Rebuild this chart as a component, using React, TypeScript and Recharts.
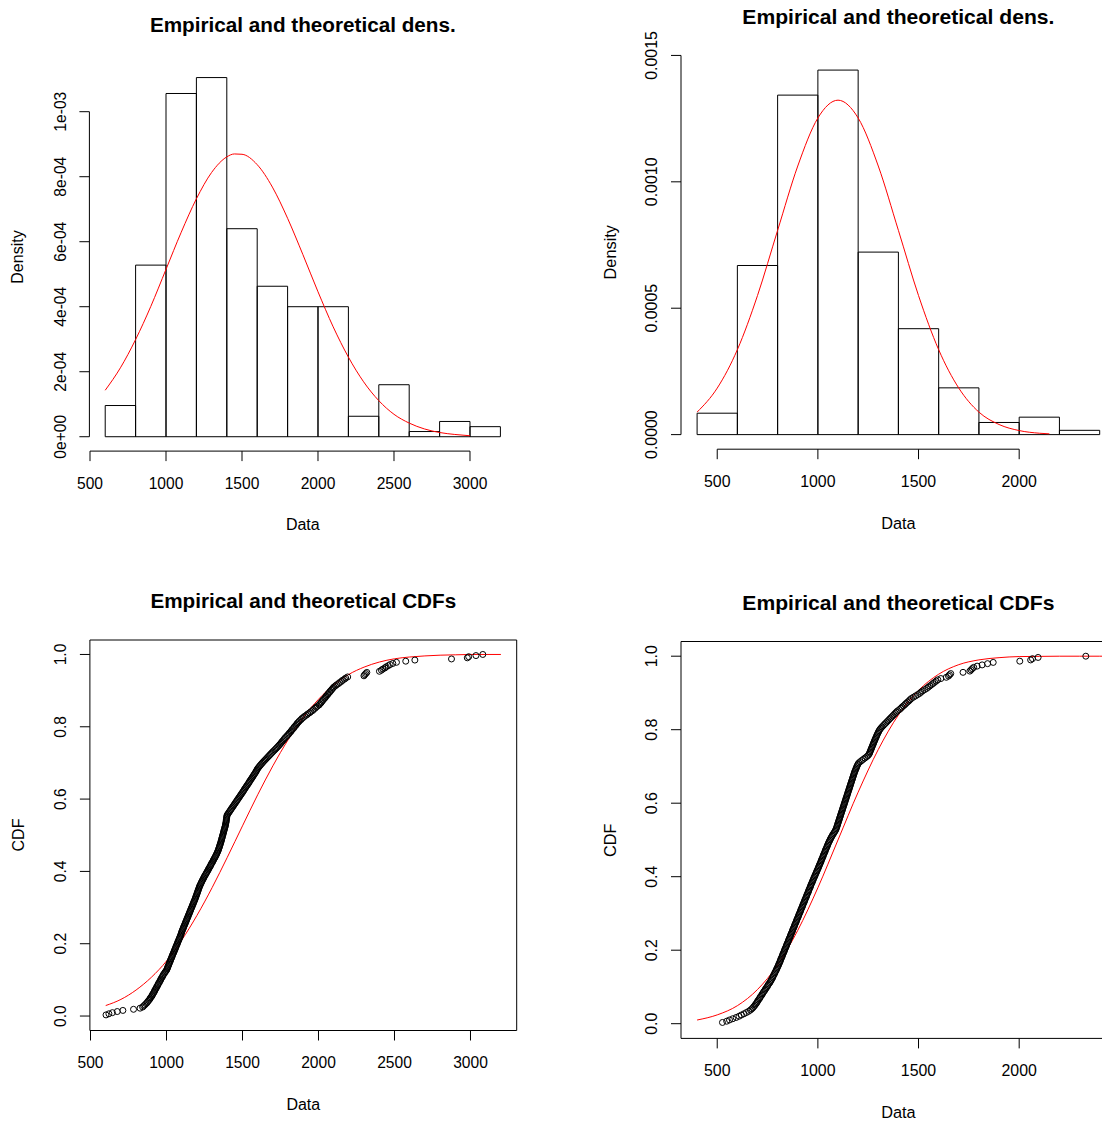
import React from 'react';
import {
  ComposedChart,
  XAxis,
  YAxis,
  Line,
  Scatter,
  ReferenceArea,
  ReferenceLine,
} from 'recharts';

const FONT = '"Liberation Sans", Arial, Helvetica, sans-serif';

// histograms, bins of width 200 (left edge of each bin)
const binWidth = 200;
const leftBinStarts = [600, 800, 1000, 1200, 1400, 1600, 1800, 2000, 2200, 2400, 2600, 2800, 3000];
const leftBinDensity = [
  0.96e-4, 5.28e-4, 1.056e-3, 1.105e-3, 6.4e-4, 4.63e-4, 4.0e-4, 4.0e-4, 0.63e-4, 1.6e-4, 0.16e-4,
  0.47e-4, 0.31e-4,
];
const rightBinStarts = [400, 600, 800, 1000, 1200, 1400, 1600, 1800, 2000, 2200];
const rightBinDensity = [
  0.847e-4, 6.69e-4, 1.343e-3, 1.442e-3, 7.22e-4, 4.19e-4, 1.85e-4, 0.48e-4, 0.69e-4, 0.17e-4,
];

// theoretical density (red curve)
const leftDensX = [
  600, 700, 800, 900, 1000, 1100, 1200, 1300, 1400, 1450, 1500, 1600, 1700, 1800, 1900, 2000, 2100,
  2200, 2300, 2400, 2500, 2600, 2700, 2800, 2900, 3000,
];
const leftDensY = [
  1.43e-4, 2.12e-4, 2.99e-4, 4.01e-4, 5.15e-4, 6.29e-4, 7.32e-4, 8.13e-4, 8.61e-4, 8.7e-4, 8.69e-4,
  8.37e-4, 7.68e-4, 6.72e-4, 5.61e-4, 4.46e-4, 3.38e-4, 2.45e-4, 1.69e-4, 1.11e-4, 0.69e-4,
  0.42e-4, 0.24e-4, 0.13e-4, 0.07e-4, 0.03e-4,
];
const rightDensX = [
  400, 500, 600, 700, 800, 900, 1000, 1100, 1200, 1300, 1400, 1500, 1600, 1700, 1800, 1900, 2000,
  2100, 2150,
];
const rightDensY = [
  0.89e-4, 1.84e-4, 3.36e-4, 5.5e-4, 8.08e-4, 1.0625e-3, 1.2525e-3, 1.323e-3, 1.2525e-3, 1.0625e-3,
  8.08e-4, 5.5e-4, 3.36e-4, 1.84e-4, 0.89e-4, 0.4e-4, 0.16e-4, 0.055e-4, 0.03e-4,
];

// theoretical CDF (red curve)
const leftCdfX = [
  600, 700, 800, 900, 1000, 1100, 1200, 1300, 1400, 1500, 1600, 1700, 1800, 1900, 2000, 2100, 2200,
  2300, 2400, 2500, 2600, 2700, 2800, 2900, 3000, 3100, 3200,
];
const leftCdfY = [
  0.029, 0.046, 0.072, 0.107, 0.152, 0.21, 0.278, 0.355, 0.439, 0.526, 0.612, 0.692, 0.764, 0.826,
  0.876, 0.916, 0.945, 0.965, 0.979, 0.988, 0.993, 0.996, 0.998, 0.999, 1.0, 1.0, 1.0,
];
const rightCdfX = [
  400, 500, 600, 700, 800, 900, 1000, 1100, 1200, 1300, 1400, 1500, 1600, 1700, 1800, 1900, 2000,
  2100, 2200, 2300, 2400, 2500,
];
const rightCdfY = [
  0.01, 0.024, 0.049, 0.093, 0.16, 0.254, 0.37, 0.5, 0.63, 0.746, 0.84, 0.907, 0.951, 0.977, 0.99,
  0.996, 0.999, 0.9995, 1.0, 1.0, 1.0, 1.0,
];

const leftSample = [
  602, 621, 644, 676, 713, 783,
  826, 843, 850, 858, 865, 873, 877, 884, 890, 893, 899, 905, 907, 912, 917, 921, 923, 928, 933, 935,
  941, 944, 947, 953, 956, 961, 963, 968, 973, 976, 980, 986, 990, 996,
  1001, 1004, 1007, 1009, 1013, 1016, 1018, 1021, 1025, 1027, 1030, 1034, 1036, 1039, 1042, 1045,
  1049, 1051, 1054, 1058, 1060, 1063, 1066, 1070, 1072, 1075, 1078, 1082, 1084, 1087, 1091, 1093,
  1096, 1098, 1101, 1103, 1106, 1110, 1112, 1115, 1118, 1122, 1124, 1127, 1131, 1133, 1136, 1140,
  1142, 1145, 1149, 1151, 1154, 1158, 1160, 1163, 1167, 1169, 1172, 1176, 1178, 1181, 1185, 1187,
  1190, 1193, 1195, 1198,
  1201, 1203, 1206, 1208, 1211, 1214, 1216, 1219, 1223, 1226, 1230, 1233, 1237, 1241, 1245, 1248,
  1252, 1257, 1261, 1265, 1269, 1274, 1277, 1281, 1286, 1290, 1293, 1297, 1302, 1306, 1309, 1313,
  1318, 1321, 1325, 1329, 1332, 1335, 1339, 1341, 1344, 1346, 1349, 1351, 1353, 1356, 1358, 1360,
  1362, 1364, 1366, 1368, 1370, 1372, 1374, 1376, 1378, 1380, 1382, 1384, 1386, 1388, 1389, 1391,
  1392, 1393, 1394, 1395, 1396, 1397, 1399,
  1404, 1409, 1414, 1419, 1424, 1429, 1434, 1439, 1444, 1449, 1454, 1459, 1464, 1469, 1474, 1479,
  1484, 1489, 1494, 1499, 1504, 1509, 1513, 1518, 1523, 1528, 1533, 1538, 1543, 1547, 1552, 1557,
  1562, 1567, 1571, 1576, 1581, 1586, 1590, 1594, 1598,
  1603, 1609, 1615, 1621, 1628, 1634, 1641, 1648, 1655, 1662, 1669, 1676, 1683, 1690, 1697, 1704,
  1712, 1719, 1726, 1733, 1740, 1746, 1753, 1758, 1764, 1771, 1776, 1782, 1790, 1796,
  1803, 1808, 1816, 1821, 1826, 1834, 1839, 1844, 1852, 1857, 1862, 1870, 1876, 1885, 1891, 1901,
  1909, 1921, 1929, 1941, 1949, 1961, 1967, 1977, 1984, 1993,
  2004, 2009, 2017, 2021, 2028, 2033, 2041, 2046, 2051, 2059, 2063, 2071, 2075, 2083, 2088, 2095,
  2101, 2111, 2119, 2131, 2139, 2151, 2158, 2171, 2179, 2192,
  2299, 2304, 2311, 2318,
  2401, 2414, 2423, 2437, 2445, 2459, 2471, 2489, 2513, 2574,
  2634, 2875, 2979, 2988, 3036, 3081,
];
const rightSample = [
  526, 547, 561, 577, 594,
  608, 620, 633, 645, 656, 665, 672, 678, 683, 688, 692, 697, 700, 704, 709, 712, 716, 721, 724, 728,
  732, 737, 740, 744, 749, 752, 756, 761, 764, 768, 771, 775, 777, 780, 784, 786, 789, 793, 795, 798,
  801, 804, 806, 809, 812, 814, 816, 819, 822, 824, 826, 829, 832, 834, 836, 839, 842, 844, 846, 849,
  852, 854, 856, 859, 862, 864, 866, 869, 872, 874, 876, 879, 882, 884, 886, 889, 892, 894, 896, 899,
  902, 904, 906, 909, 912, 914, 916, 919, 922, 924, 926, 929, 932, 934, 936, 939, 942, 944, 946, 949,
  952, 954, 956, 959, 962, 964, 966, 969, 972, 974, 977, 979, 982, 985, 987, 990, 993, 995, 998,
  1001, 1003, 1006, 1008, 1011, 1014, 1016, 1018, 1021, 1024, 1026, 1028, 1031, 1034, 1036, 1038,
  1041, 1044, 1046, 1049, 1051, 1054, 1057, 1060, 1063, 1066, 1070, 1073, 1077, 1081, 1085, 1088,
  1091, 1093, 1095, 1097, 1099, 1101, 1103, 1105, 1107, 1109, 1111, 1113, 1115, 1117, 1119, 1121,
  1123, 1125, 1127, 1129, 1131, 1133, 1135, 1137, 1139, 1141, 1143, 1145, 1147, 1149, 1151, 1153,
  1155, 1157, 1159, 1161, 1163, 1165, 1167, 1169, 1171, 1173, 1175, 1177, 1179, 1181, 1183, 1186,
  1188, 1191, 1193, 1196, 1199,
  1203, 1210, 1218, 1226, 1234, 1242, 1249, 1254, 1257, 1259, 1262, 1264, 1267, 1269, 1272, 1274,
  1277, 1279, 1282, 1284, 1287, 1290, 1292, 1295, 1298, 1301, 1304, 1308, 1313, 1318, 1324, 1330,
  1336, 1342, 1348, 1354, 1360, 1366, 1372, 1378, 1384, 1390, 1396,
  1405, 1412, 1418, 1425, 1432, 1438, 1445, 1452, 1458, 1465, 1475, 1485, 1495, 1505, 1512, 1520,
  1530, 1540, 1548, 1556, 1564, 1572, 1580, 1588, 1596,
  1611, 1638, 1649, 1654, 1660, 1721, 1755, 1761, 1767, 1774, 1791,
  1816, 1843, 1871, 2003, 2057, 2066, 2094, 2331,
];

// axis ticks
const leftXTicks = [500, 1000, 1500, 2000, 2500, 3000];
const rightXTicks = [500, 1000, 1500, 2000];
const leftDensTicks = [0, 0.0002, 0.0004, 0.0006, 0.0008, 0.001];
const leftDensLabels = ['0e+00', '2e-04', '4e-04', '6e-04', '8e-04', '1e-03'];
const rightDensTicks = [0, 0.0005, 0.001, 0.0015];
const rightDensLabels = ['0.0000', '0.0005', '0.0010', '0.0015'];
const cdfTicks = [0, 0.2, 0.4, 0.6, 0.8, 1];
const cdfLabels = ['0.0', '0.2', '0.4', '0.6', '0.8', '1.0'];

const toPoints = (xs: number[], ys: number[]) => xs.map((x, i) => ({ x, y: ys[i] }));
const ecdf = (s: number[]) => s.map((x, i) => ({ x, y: (i + 1) / s.length }));

interface Rect {
  l: number;
  t: number;
  w: number;
  h: number;
}

const AXIS_W = 40;
const AXIS_H = 40;

const Txt = ({
  x,
  y,
  size,
  bold,
  rotate,
  children,
}: {
  x: number;
  y: number;
  size: number;
  bold?: boolean;
  rotate?: boolean;
  children: React.ReactNode;
}) => (
  <div
    style={{
      position: 'absolute',
      left: x - 250,
      top: y - size * 0.75,
      width: 500,
      height: size * 1.5,
      lineHeight: `${size * 1.5}px`,
      textAlign: 'center',
      fontFamily: FONT,
      fontSize: size,
      fontWeight: bold ? 700 : 400,
      color: '#000',
      whiteSpace: 'nowrap',
      transform: rotate ? 'rotate(-90deg)' : undefined,
    }}
  >
    {children}
  </div>
);

interface PanelProps {
  box: Rect;
  plot: Rect;
  xDomain: [number, number];
  yDomain: [number, number];
  xTicks: number[];
  yTicks: number[];
  yLabels: string[];
  title: string;
  yTitle: string;
  fs: number;
  children: React.ReactNode;
}

const Panel = (p: PanelProps) => {
  const margin = {
    left: p.plot.l - p.box.l - AXIS_W,
    top: p.plot.t - p.box.t,
    right: p.box.l + p.box.w - (p.plot.l + p.plot.w),
    bottom: p.box.t + p.box.h - (p.plot.t + p.plot.h) - AXIS_H,
  };
  const tickSize = 15.6 * p.fs;
  const xTick = (t: any) => (
    <g>
      <line x1={t.x} x2={t.x} y1={t.y} y2={t.y + 10} stroke="#000" />
      <text
        x={t.x}
        y={t.y + 32}
        textAnchor="middle"
        dominantBaseline="central"
        fontFamily={FONT}
        fontSize={tickSize}
        fill="#000"
      >
        {t.payload.value}
      </text>
    </g>
  );
  const yTick = (t: any) => {
    const tx = t.x - 29;
    return (
      <g>
        <line x1={t.x - 10} x2={t.x} y1={t.y} y2={t.y} stroke="#000" />
        <text
          x={tx}
          y={t.y}
          transform={`rotate(-90 ${tx} ${t.y})`}
          textAnchor="middle"
          dominantBaseline="central"
          fontFamily={FONT}
          fontSize={tickSize}
          fill="#000"
        >
          {p.yLabels[t.index]}
        </text>
      </g>
    );
  };
  const cx = p.plot.l + p.plot.w / 2;
  const cy = p.plot.t + p.plot.h / 2;
  return (
    <>
      <div style={{ position: 'absolute', left: p.box.l, top: p.box.t }}>
        <ComposedChart width={p.box.w} height={p.box.h} margin={margin}>
          <XAxis
            type="number"
            dataKey="x"
            domain={p.xDomain}
            allowDataOverflow
            ticks={p.xTicks}
            interval={0}
            height={AXIS_H}
            axisLine={false}
            tickLine={false}
            tickSize={0}
            tickMargin={0}
            tick={xTick}
          />
          <YAxis
            type="number"
            dataKey="y"
            domain={p.yDomain}
            allowDataOverflow
            ticks={p.yTicks}
            interval={0}
            width={AXIS_W}
            axisLine={false}
            tickLine={false}
            tickSize={0}
            tickMargin={0}
            tick={yTick}
          />
          {p.children}
        </ComposedChart>
      </div>
      <Txt x={cx} y={p.plot.t - 39} size={20.7 * p.fs} bold>
        {p.title}
      </Txt>
      <Txt x={cx} y={p.plot.t + p.plot.h + 74} size={16 * p.fs}>
        Data
      </Txt>
      <Txt x={p.plot.l - 71} y={cy} size={16 * p.fs} rotate>
        {p.yTitle}
      </Txt>
    </>
  );
};

const histBars = (starts: number[], dens: number[]) =>
  starts.map((s, i) => (
    <ReferenceArea
      key={`bin-${s}`}
      x1={s}
      x2={s + binWidth}
      y1={0}
      y2={dens[i]}
      fill="#ffffff"
      fillOpacity={0}
      stroke="#000"
      strokeWidth={1}
      ifOverflow="visible"
    />
  ));

const ring = (props: any) => (
  <circle cx={props.cx} cy={props.cy} r={3} fill="none" stroke="#000" strokeWidth={1} />
);

const leftXDomain: [number, number] = [496, 3304];
const rightXDomain: [number, number] = [320, 2480];
const cdfDomain: [number, number] = [-0.04, 1.04];

export default function App() {
  return (
    <div
      style={{
        position: 'absolute',
        left: 0,
        top: 0,
        width: 1102,
        height: 1122,
        overflow: 'hidden',
        background: '#fff',
      }}
    >
      <Panel
        box={{ l: 0, t: 0, w: 551, h: 560 }}
        plot={{ l: 89.4, t: 63.2, w: 426.8, h: 387.9 }}
        xDomain={leftXDomain}
        yDomain={[-0.0000442, 0.0011492]}
        xTicks={leftXTicks}
        yTicks={leftDensTicks}
        yLabels={leftDensLabels}
        title="Empirical and theoretical dens."
        yTitle="Density"
        fs={1}
      >
        {histBars(leftBinStarts, leftBinDensity)}
        <ReferenceLine
          segment={[
            { x: 500, y: -0.0000442 },
            { x: 3000, y: -0.0000442 },
          ]}
          stroke="#000"
          ifOverflow="visible"
        />
        <ReferenceLine
          segment={[
            { x: 496, y: 0 },
            { x: 496, y: 0.001 },
          ]}
          stroke="#000"
          ifOverflow="visible"
        />
        <Line
          data={toPoints(leftDensX, leftDensY)}
          dataKey="y"
          type="monotone"
          stroke="#ff0000"
          strokeWidth={1}
          dot={false}
          isAnimationActive={false}
        />
      </Panel>

      <Panel
        box={{ l: 551, t: 0, w: 600, h: 560 }}
        plot={{ l: 681, t: 55.5, w: 434.8, h: 393.7 }}
        xDomain={rightXDomain}
        yDomain={[-0.0000577, 0.0014997]}
        xTicks={rightXTicks}
        yTicks={rightDensTicks}
        yLabels={rightDensLabels}
        title="Empirical and theoretical dens."
        yTitle="Density"
        fs={1.02}
      >
        {histBars(rightBinStarts, rightBinDensity)}
        <ReferenceLine
          segment={[
            { x: 500, y: -0.0000577 },
            { x: 2000, y: -0.0000577 },
          ]}
          stroke="#000"
          ifOverflow="visible"
        />
        <ReferenceLine
          segment={[
            { x: 320, y: 0 },
            { x: 320, y: 0.0015 },
          ]}
          stroke="#000"
          ifOverflow="visible"
        />
        <Line
          data={toPoints(rightDensX, rightDensY)}
          dataKey="y"
          type="monotone"
          stroke="#ff0000"
          strokeWidth={1}
          dot={false}
          isAnimationActive={false}
        />
      </Panel>

      <Panel
        box={{ l: 0, t: 560, w: 551, h: 562 }}
        plot={{ l: 89.9, t: 640, w: 426.8, h: 390.5 }}
        xDomain={leftXDomain}
        yDomain={cdfDomain}
        xTicks={leftXTicks}
        yTicks={cdfTicks}
        yLabels={cdfLabels}
        title="Empirical and theoretical CDFs"
        yTitle="CDF"
        fs={1}
      >
        <ReferenceArea
          x1={leftXDomain[0]}
          x2={leftXDomain[1]}
          y1={cdfDomain[0]}
          y2={cdfDomain[1]}
          fill="#ffffff"
          fillOpacity={0}
          stroke="#000"
          ifOverflow="visible"
        />
        <Scatter
          data={ecdf(leftSample)}
          dataKey="y"
          shape={ring}
          isAnimationActive={false}
        />
        <Line
          data={toPoints(leftCdfX, leftCdfY)}
          dataKey="y"
          type="monotone"
          stroke="#ff0000"
          strokeWidth={1}
          dot={false}
          isAnimationActive={false}
        />
      </Panel>

      <Panel
        box={{ l: 551, t: 560, w: 600, h: 562 }}
        plot={{ l: 681, t: 641.5, w: 434.8, h: 396.9 }}
        xDomain={rightXDomain}
        yDomain={cdfDomain}
        xTicks={rightXTicks}
        yTicks={cdfTicks}
        yLabels={cdfLabels}
        title="Empirical and theoretical CDFs"
        yTitle="CDF"
        fs={1.02}
      >
        <ReferenceArea
          x1={rightXDomain[0]}
          x2={rightXDomain[1]}
          y1={cdfDomain[0]}
          y2={cdfDomain[1]}
          fill="#ffffff"
          fillOpacity={0}
          stroke="#000"
          ifOverflow="visible"
        />
        <Scatter
          data={ecdf(rightSample)}
          dataKey="y"
          shape={ring}
          isAnimationActive={false}
        />
        <Line
          data={toPoints(rightCdfX, rightCdfY)}
          dataKey="y"
          type="monotone"
          stroke="#ff0000"
          strokeWidth={1}
          dot={false}
          isAnimationActive={false}
        />
      </Panel>
    </div>
  );
}
